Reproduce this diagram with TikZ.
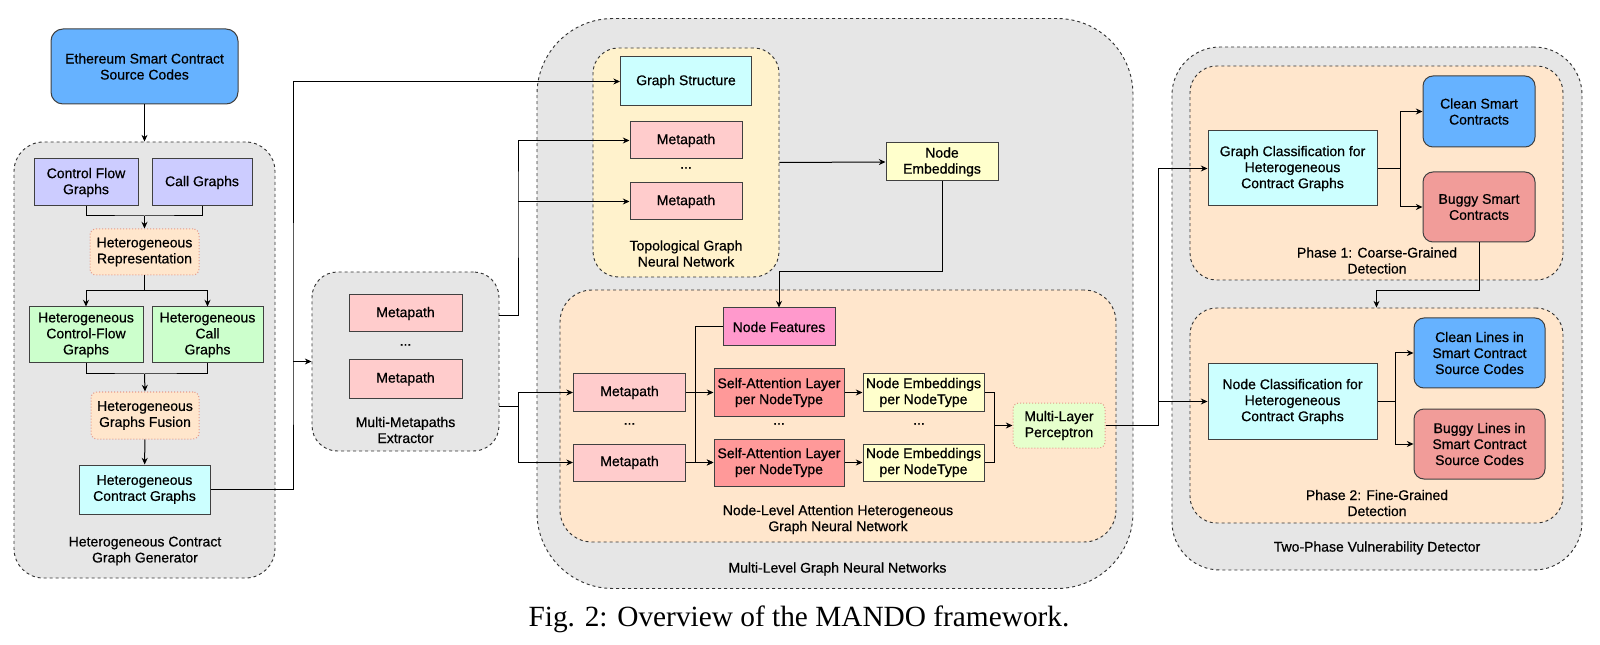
\documentclass[tikz,border=0pt]{standalone}
\usepackage{fontspec}
\setmainfont{Liberation Sans}[UprightFeatures={FakeBold=0.6}]
\newfontfamily\capfont{Liberation Serif}
\usepackage{tikz}
\usetikzlibrary{arrows.meta,calc}

\definecolor{srcblue}{HTML}{66B2FF}
\definecolor{lavender}{HTML}{CCCCFF}
\definecolor{peach}{HTML}{FFE6CC}
\definecolor{mint}{HTML}{CCFFCC}
\definecolor{paleCyan}{HTML}{CCFFFF}
\definecolor{grpgrey}{HTML}{E6E6E6}
\definecolor{paleRed}{HTML}{FFCCCC}
\definecolor{topoYellow}{HTML}{FFF2CC}
\definecolor{paleYellow}{HTML}{FFFFCC}
\definecolor{featPink}{HTML}{FF99CC}
\definecolor{attnRed}{HTML}{FF9999}
\definecolor{mlpGreen}{HTML}{E6FFCC}
\definecolor{bugRed}{HTML}{F19C99}
\definecolor{dotRed}{HTML}{E59A8C}

\newcommand{\txtL}{\fontsize{10.5}{12}\selectfont}

\begin{document}
\begin{tikzpicture}[x=0.75pt, y=-0.75pt, line width=0.75pt,
    >={Stealth[length=5pt, width=4.5pt]},
    sz/.style 2 args={minimum width=#1*0.75pt, minimum height=#2*0.75pt},
    box/.style={draw=black!75, align=center, inner sep=0pt, font=\txtL},
    dotbox/.style={draw=dotRed, dash pattern=on 0.75pt off 1.5pt, rounded corners=4.5pt,
                   align=center, inner sep=0pt, font=\txtL},
    grp/.style={draw=black!80, dash pattern=on 2.25pt off 2.25pt, line width=0.7pt, inner sep=0pt},
    lbl/.style={align=center, font=\txtL}]

    \useasboundingbox (0,0) rectangle (1600,645);

    % group boxes (drawn first, behind everything)
    \node[grp, fill=grpgrey, rounded corners=22pt, sz={261}{436}] (genbox) at (144.5,360) {};
    \node[grp, fill=grpgrey, rounded corners=19pt, sz={187}{179}] (mbox) at (405.5,361.5) {};
    \node[grp, fill=grpgrey, rounded corners=57pt, sz={596}{570}] (mlbox) at (835,303.5) {};
    \node[grp, fill=topoYellow, rounded corners=19pt, sz={186}{229}] (tbox) at (686,162.5) {};
    \node[grp, fill=peach, rounded corners=24pt, sz={556}{252}] (nbox) at (838,416) {};
    \node[grp, fill=grpgrey, rounded corners=36pt, sz={410}{523}] (dbox) at (1377,308.5) {};
    \node[grp, fill=peach, rounded corners=20pt, sz={373}{214}] (p1box) at (1376.5,173) {};
    \node[grp, fill=peach, rounded corners=20pt, sz={373}{215}] (p2box) at (1376.5,415.5) {};

    % group labels
    \node[lbl] (genlbl) at (145,551) {Heterogeneous Contract\\Graph Generator};
    \node[lbl] (mlbl) at (405.5,430) {Multi-Metapaths\\Extractor};
    \node[lbl] (tlbl) at (686,253.5) {Topological Graph\\Neural Network};
    \node[lbl] (nlbl) at (838,519.5) {Node-Level Attention Heterogeneous\\Graph Neural Network};
    \node[lbl] (mllbl) at (837.5,569) {Multi-Level Graph Neural Networks};
    \node[lbl] (p1lbl) at (1377,260.5) {Phase 1: Coarse-Grained\\Detection};
    \node[lbl] (p2lbl) at (1377,503) {Phase 2: Fine-Grained\\Detection};
    \node[lbl] (dlbl) at (1377,548) {Two-Phase Vulnerability Detector};

    % graph generator
    \node[box, fill=srcblue, rounded corners=9pt, sz={187}{75}] (src) at (144.5,66.5) {Ethereum Smart Contract\\Source Codes};
    \node[box, fill=lavender, sz={104}{47}] (cfg) at (86,182.5) {Control Flow\\Graphs};
    \node[box, fill=lavender, sz={100}{47}] (cg) at (202,182.5) {Call Graphs};
    \node[dotbox, fill=peach, sz={109}{46}] (hrep) at (144.5,252) {Heterogeneous\\Representation};
    \node[box, fill=mint, sz={114}{56}] (hcfg) at (86,335) {Heterogeneous\\Control-Flow\\Graphs};
    \node[box, fill=mint, sz={111}{56}] (hcg) at (207.5,335) {Heterogeneous\\Call\\Graphs};
    \node[dotbox, fill=peach, sz={108}{47}] (hfus) at (145,415.5) {Heterogeneous\\Graphs Fusion};
    \node[box, fill=paleCyan, sz={131}{49}] (hcon) at (144.5,489.5) {Heterogeneous\\Contract Graphs};

    \coordinate (m1) at (144.5,216);
    \coordinate (s1) at (144.5,291);
    \coordinate (m2) at (144.5,374);
    \draw[->] (src) -- (genbox.north);
    \draw (cfg.south) |- (m1) -| (cg.south);
    \draw[->] (m1) -- (hrep.north);
    \draw (hrep.south) -- (s1);
    \draw[->] (s1) -| (hcfg.north);
    \draw[->] (s1) -| (hcg.north);
    \draw (hcfg.south) |- (m2) -| (hcg.south);
    \draw[->] (m2) -- (hfus.north);
    \draw[->] (hfus) -- (hcon);

    % metapath extractor
    \node[box, fill=paleRed, sz={113}{37}] (mp1) at (405.5,313.5) {Metapath};
    \node[lbl] (mdots) at (405.5,345) {...};
    \node[box, fill=paleRed, sz={113}{38}] (mp2) at (405.5,379) {Metapath};

    % topological GNN
    \node[box, fill=paleCyan, sz={131}{49}] (gs) at (686,81.5) {Graph Structure};
    \node[box, fill=paleRed, sz={112}{37}] (tmp1) at (686,140.5) {Metapath};
    \node[lbl] (tdots) at (686,168) {...};
    \node[box, fill=paleRed, sz={112}{37}] (tmp2) at (686,201.5) {Metapath};
    \node[box, fill=paleYellow, sz={112}{38}] (nemb) at (942,162) {Node\\Embeddings};

    % node-level attention GNN
    \node[box, fill=featPink, sz={112}{38}] (nfeat) at (779,327) {Node Features};
    \node[box, fill=paleRed, sz={112}{37}] (nmp1) at (629.5,392.5) {Metapath};
    \node[lbl] (ndots1) at (629.5,424) {...};
    \node[box, fill=paleRed, sz={112}{37}] (nmp2) at (629.5,462.5) {Metapath};
    \node[box, fill=attnRed, sz={130}{47}] (sa1) at (779,392.5) {Self-Attention Layer\\per NodeType};
    \node[lbl] (ndots2) at (779,424) {...};
    \node[box, fill=attnRed, sz={130}{47}] (sa2) at (779,462.5) {Self-Attention Layer\\per NodeType};
    \node[box, fill=paleYellow, sz={121}{37}] (ne1) at (923.5,392.5) {Node Embeddings\\per NodeType};
    \node[lbl] (ndots3) at (919,424) {...};
    \node[box, fill=paleYellow, sz={121}{37}] (ne2) at (923.5,462.5) {Node Embeddings\\per NodeType};
    \node[dotbox, fill=mlpGreen, sz={92}{45}] (mlp) at (1059,425.5) {Multi-Layer\\Perceptron};

    % two-phase detector
    \node[box, fill=paleCyan, sz={169}{75}] (gcl) at (1292.5,168.5) {Graph Classification for\\Heterogeneous\\Contract Graphs};
    \node[box, fill=srcblue, rounded corners=7.5pt, sz={112}{71}] (clean) at (1479,111.5) {Clean Smart\\Contracts};
    \node[box, fill=bugRed, rounded corners=7.5pt, sz={112}{70}] (buggy) at (1479,207) {Buggy Smart\\Contracts};
    \node[box, fill=paleCyan, sz={169}{75}] (ncl) at (1292.5,401.5) {Node Classification for\\Heterogeneous\\Contract Graphs};
    \node[box, fill=srcblue, rounded corners=7.5pt, sz={131}{70}] (cline) at (1479.5,353) {Clean Lines in\\Smart Contract\\Source Codes};
    \node[box, fill=bugRed, rounded corners=7.5pt, sz={131}{70}] (bline) at (1479.5,444) {Buggy Lines in\\Smart Contract\\Source Codes};

    % connectors between the groups
    \coordinate (bus1) at (293,361.5);
    \coordinate (bus2) at (518,201.5);
    \coordinate (bus3) at (518,406);
    \coordinate (bus4) at (695,462.5);
    \coordinate (bus5) at (994.5,425.5);
    \coordinate (bus6) at (1158,401.5);
    \coordinate (bus7) at (1400,168.5);
    \coordinate (bus8) at (1395,401.5);

    \draw[->] (hcon.east) -| (bus1) |- (gs.west);
    \draw[->] (bus1) -- (mbox.west);
    \draw[->] ($(mbox.east)+(0,-45.5)$) -| (bus2) |- (tmp1.west);
    \draw[->] (bus2) -- (tmp2.west);
    \draw ($(mbox.east)+(0,44.5)$) -- (bus3);
    \draw[->] (bus3) |- (nmp1.west);
    \draw[->] (bus3) |- (nmp2.west);
    \draw[->] (tbox.east) -- (nemb.west);
    \draw[->] (nemb.south) -- ++(0,90) -| (nfeat.north);
    \draw[->] (nfeat.west) -| (bus4) -- (sa2.west);
    \draw[->] (nmp1) -- (sa1);
    \draw[->] (nmp2) -- (sa2);
    \draw[->] (sa1) -- (ne1);
    \draw[->] (sa2) -- (ne2);
    \draw (ne1.east) -| (bus5) |- (ne2.east);
    \draw[->] (bus5) -- (mlp.west);
    \draw (mlp.east) -| (bus6);
    \draw[->] (bus6) -- (ncl.west);
    \draw[->] (bus6) |- (gcl.west);
    \draw (gcl.east) -- (bus7);
    \draw[->] (bus7) |- (clean.west);
    \draw[->] (bus7) |- (buggy.west);
    \draw[->] (buggy.south) -- ++(0,48) -| (p2box.north);
    \draw (ncl.east) -- (bus8);
    \draw[->] (bus8) |- (cline.west);
    \draw[->] (bus8) |- (bline.west);

    % caption
    \node[anchor=base, font=\capfont\fontsize{22}{26}\selectfont] (cap) at (799,626) {Fig. 2: Overview of the MANDO framework.};
\end{tikzpicture}
\end{document}
